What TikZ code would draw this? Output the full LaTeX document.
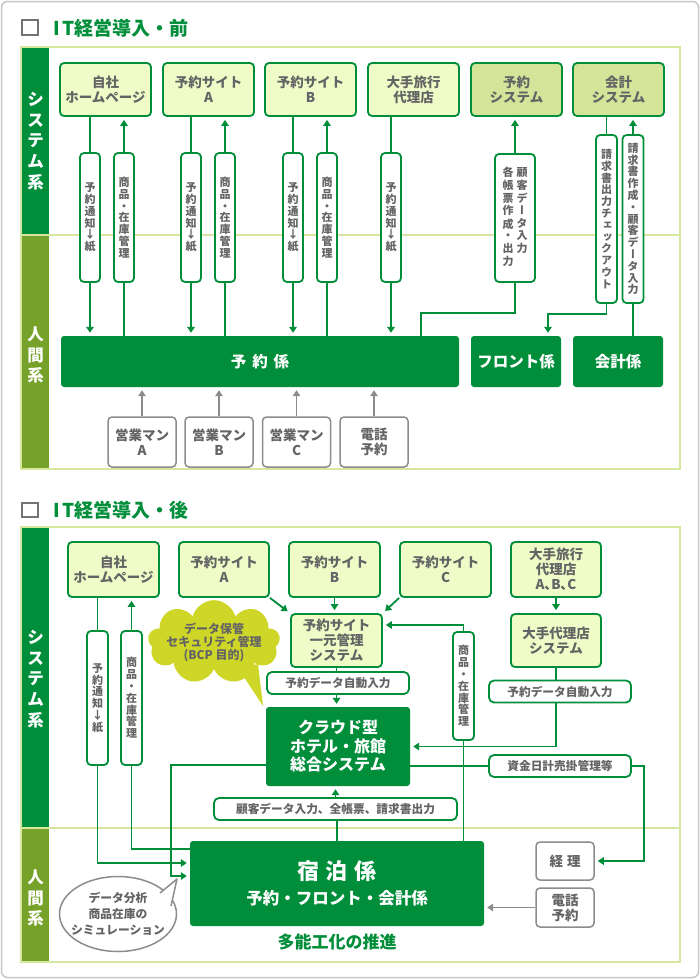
\documentclass[tikz,border=0pt]{standalone}
\usepackage{fontspec}
\setmainfont{Noto Sans CJK JP}
\newfontfamily\jpv[RawFeature=+vert]{Noto Sans CJK JP}
\usepackage{tikz}
\usetikzlibrary{positioning,arrows.meta,calc,shapes.geometric,shapes.symbols}
\usepackage{xcolor}
\definecolor{jgreen}{RGB}{0,142,58}
\definecolor{olivec}{RGB}{118,162,42}
\definecolor{pnlc}{RGB}{214,232,160}
\definecolor{boxlt}{RGB}{240,252,200}
\definecolor{boxdk}{RGB}{212,229,154}
\definecolor{tgray}{RGB}{100,100,100}
\definecolor{bgray}{RGB}{140,140,140}
\definecolor{cloudc}{RGB}{206,214,40}
\tikzset{
  frm/.style={draw=black!22,line width=1.5pt,rounded corners=6pt},
  chk/.style={draw=black!55,line width=1.2pt,fill=white},
  pnl/.style={draw=pnlc,line width=2pt},
  link/.style={draw=jgreen,line width=1.8pt},
  arr/.style={link,->,shorten >=3pt},
  garr/.style={draw=bgray,line width=1.6pt,->,shorten >=3pt},
  sysbox/.style={draw=jgreen,line width=1.8pt,rounded corners=4pt,fill=boxlt,text=tgray,align=center,inner sep=0pt,minimum width=91pt,minimum height=53pt,font=\bfseries\fontsize{13.5}{15}\selectfont},
  sysdark/.style={sysbox,fill=boxdk},
  vlabel/.style={draw=jgreen,line width=1.8pt,rounded corners=4pt,fill=white,text=tgray,align=center,inner sep=0pt,minimum width=20pt,font=\jpv\bfseries\fontsize{11}{11.8}\selectfont},
  hlabel/.style={draw=jgreen,line width=1.8pt,rounded corners=5pt,fill=white,text=tgray,inner sep=0pt,minimum height=22pt,font=\bfseries\fontsize{11.7}{13}\selectfont},
  staff/.style={fill=jgreen,rounded corners=3pt,text=white,align=center,inner sep=0pt,minimum height=51pt,font=\bfseries\fontsize{15.5}{18}\selectfont},
  human/.style={draw=bgray,line width=1.5pt,rounded corners=4pt,fill=white,text=tgray,align=center,inner sep=0pt,minimum width=68pt,minimum height=50pt,font=\bfseries\fontsize{13.5}{15}\selectfont},
  side/.style={text=white,align=center,font=\bfseries\fontsize{16.5}{20.6}\selectfont},
  ttl/.style={anchor=west,text=jgreen,font=\bfseries\fontsize{19}{22}\selectfont}
}
\newcommand{\vcol}[1]{\begin{tabular}[t]{@{}c@{}}#1\end{tabular}}
\begin{document}
\begin{tikzpicture}[x=1pt,y=-1pt,>={Triangle[length=6pt,width=7.5pt]}]
\useasboundingbox (0,0) rectangle (700,980);
\fill[white] (0,0) rectangle (700,980);
\draw[frm] (1.5,1.5) rectangle (698.5,977.5);

% ---- IT before ----
\draw[chk] (22,20) rectangle (38,35);
\node[ttl] (ttlA) at (50,28) {I\hspace{2pt}T経営導入・前};
\draw[pnl] (21,47) rectangle (680,469);
\fill[jgreen] (22,48) rectangle (49,234);
\fill[olivec] (22,236) rectangle (49,468);
\draw[pnl] (21,235) -- (680,235);
\node[side] (sysA) at (35.5,141) {シ\\ス\\テ\\ム\\系};
\node[side] (humA) at (35.5,355) {人\\間\\系};

\node[sysbox] (hp) at (105.5,89.5) {自社\\ホームページ};
\node[sysbox] (siteA) at (208.5,89.5) {予約サイト\\A};
\node[sysbox] (siteB) at (310.5,89.5) {予約サイト\\B};
\node[sysbox] (agent) at (413.5,89.5) {大手旅行\\代理店};
\node[sysdark] (rsys) at (516.5,89.5) {予約\\システム};
\node[sysdark] (asys) at (618.5,89.5) {会計\\システム};

\node[vlabel,minimum height=129pt] (hpN) at (90,217.5) {予\\約\\通\\知\\↓\\紙};
\node[vlabel,minimum height=129pt] (hpS) at (124,217.5) {商\\品\\・\\在\\庫\\管\\理};
\node[vlabel,minimum height=129pt] (aN) at (191,217.5) {予\\約\\通\\知\\↓\\紙};
\node[vlabel,minimum height=129pt] (aS) at (225,217.5) {商\\品\\・\\在\\庫\\管\\理};
\node[vlabel,minimum height=129pt] (bN) at (293,217.5) {予\\約\\通\\知\\↓\\紙};
\node[vlabel,minimum height=129pt] (bS) at (327,217.5) {商\\品\\・\\在\\庫\\管\\理};
\node[vlabel,minimum height=129pt] (agN) at (391,217.5) {予\\約\\通\\知\\↓\\紙};
\node[vlabel,minimum height=128pt,minimum width=40pt] (rsL) at (515,218) {\vcol{各\\帳\\票\\作\\成\\・\\出\\力}\hspace{3pt}\vcol{顧\\客\\デ\\ー\\タ\\入\\力}};
\node[vlabel,minimum height=168pt,minimum width=21pt] (asL1) at (606.5,219) {請\\求\\書\\出\\力\\チ\\ェ\\ッ\\ク\\ア\\ウ\\ト};
\node[vlabel,minimum height=168pt,minimum width=21pt] (asL2) at (633,219) {請\\求\\書\\作\\成\\・\\顧\\客\\デ\\ー\\タ\\入\\力};

\node[staff,minimum width=398pt] (resv) at (260,361.5) {予\hspace{6pt}約\hspace{6pt}係};
\node[staff,minimum width=90pt] (front) at (516,361.5) {フロント係};
\node[staff,minimum width=90pt] (kaikei) at (618,361.5) {会計係};

\node[human] (smA) at (142,442) {営業マン\\A};
\node[human] (smB) at (219,442) {営業マン\\B};
\node[human] (smC) at (296.5,442) {営業マン\\C};
\node[human] (telA) at (374,442) {電話\\予約};

\draw[link] (hpN.north) -- (hpN.north |- hp.south);
\draw[arr] (hpN.south) -- (hpN.south |- resv.north);
\draw[arr] (hpS.north) -- (hpS.north |- hp.south);
\draw[link] (hpS.south) -- (hpS.south |- resv.north);
\draw[link] (aN.north) -- (aN.north |- siteA.south);
\draw[arr] (aN.south) -- (aN.south |- resv.north);
\draw[arr] (aS.north) -- (aS.north |- siteA.south);
\draw[link] (aS.south) -- (aS.south |- resv.north);
\draw[link] (bN.north) -- (bN.north |- siteB.south);
\draw[arr] (bN.south) -- (bN.south |- resv.north);
\draw[arr] (bS.north) -- (bS.north |- siteB.south);
\draw[link] (bS.south) -- (bS.south |- resv.north);
\draw[link] (agN.north) -- (agN.north |- agent.south);
\draw[arr] (agN.south) -- (agN.south |- resv.north);
\draw[arr] (rsL.north) -- (rsL.north |- rsys.south);
\coordinate (rsBend) at (421,313);
\draw[link] (rsL.south) |- (rsBend) -- (rsBend |- resv.north);
\draw[link] (asL1.north) -- (asL1.north |- asys.south);
\coordinate (frBend) at (548,314);
\draw[arr] (asL1.south) |- (frBend) -- (frBend |- front.north);
\draw[arr] (asL2.north) -- (asL2.north |- asys.south);
\draw[link] (asL2.south) -- (asL2.south |- kaikei.north);

\draw[garr] (smA.north) -- (smA.north |- resv.south);
\draw[garr] (smB.north) -- (smB.north |- resv.south);
\draw[garr] (smC.north) -- (smC.north |- resv.south);
\draw[garr] (telA.north) -- (telA.north |- resv.south);

% ---- IT after ----
\draw[chk] (22,503) rectangle (38,517);
\node[ttl] (ttlB) at (50,510) {I\hspace{2pt}T経営導入・後};
\draw[pnl] (21,527) rectangle (680,962);
\fill[jgreen] (22,528) rectangle (49,827);
\fill[olivec] (22,829) rectangle (49,961);
\draw[pnl] (21,828) -- (680,828);
\node[side] (sysB) at (35.5,679) {シ\\ス\\テ\\ム\\系};
\node[side] (humB) at (35.5,898) {人\\間\\系};

\node[sysbox,minimum height=55pt] (hp2) at (113.5,569.5) {自社\\ホームページ};
\node[sysbox,minimum height=55pt,minimum width=90pt] (sA2) at (224,569.5) {予約サイト\\A};
\node[sysbox,minimum height=55pt] (sB2) at (334.5,569.5) {予約サイト\\B};
\node[sysbox,minimum height=55pt] (sC2) at (445.5,569.5) {予約サイト\\C};
\node[sysbox,minimum height=55pt,minimum width=90pt] (ag2) at (556,569.5) {大手旅行\\代理店\\A､B､C};
\node[sysbox,minimum height=53pt] (ichi) at (336.5,640.5) {予約サイト\\一元管理\\システム};
\node[sysbox,minimum height=53pt,minimum width=90pt] (agsys) at (556,640.5) {大手代理店\\システム};

\node[hlabel,minimum width=142pt] (autoA) at (338,683) {予約データ自動入力};
\node[hlabel,minimum width=142pt] (autoB) at (560,691.5) {予約データ自動入力};
\node[staff,minimum width=144pt,minimum height=79pt,font=\bfseries\fontsize{16}{18.5}\selectfont] (cloud) at (338,746.5) {クラウド型\\ホテル・旅館\\総合システム};
\node[hlabel,minimum width=243pt] (cust) at (335.5,809) {顧客データ入力、全帳票、請求書出力};
\node[hlabel,minimum width=142pt] (fund) at (560,766) {資金日計売掛管理等};
\node[vlabel,minimum height=108pt,minimum width=21pt] (stk) at (463.5,686) {商\\品\\・\\在\\庫\\管\\理};
\node[vlabel,minimum height=134pt,minimum width=21pt] (hpN2) at (97.5,698) {予\\約\\通\\知\\↓\\紙};
\node[vlabel,minimum height=134pt,minimum width=21pt] (hpS2) at (131.5,698) {商\\品\\・\\在\\庫\\管\\理};

\fill[cloudc] (238,668) -- (263,706) -- (258,664) -- cycle;
\node[cloud,cloud puffs=9,aspect=2.2,fill=cloudc,minimum width=132pt,minimum height=62pt,inner xsep=-10pt,inner ysep=0pt,text=tgray,align=center,font=\bfseries\fontsize{12}{13}\selectfont] (bcp) at (214,642) {データ保管\\セキュリティ管理\\(BCP 目的)};

\node[staff,minimum width=294pt,minimum height=85pt] (shuku) at (337,883.5) {{\fontsize{22}{26}\selectfont 宿\hspace{7pt}泊\hspace{7pt}係}\\[7pt]{\fontsize{16.5}{20}\selectfont 予約・フロント・会計係}};
\node[below=4pt of shuku,text=jgreen,font=\bfseries\fontsize{17}{20}\selectfont] (tano) {多能工化の推進};
\node[human,minimum width=58pt,minimum height=38pt] (keiri) at (565,861) {経\hspace{4pt}理};
\node[human,minimum width=58pt,minimum height=39pt] (telB) at (565,907.5) {電話\\予約};

\node[ellipse,draw=bgray,line width=1.5pt,fill=white,minimum width=117pt,minimum height=75pt,inner xsep=-8pt,inner ysep=0pt,align=center,text=tgray,font=\bfseries\fontsize{11.8}{15.7}\selectfont] (anal) at (118,914) {データ分析\\商品在庫の\\シミュレーション};
\fill[white] (160,893) -- (177,879) -- (171,906) -- cycle;
\draw[draw=bgray,line width=1.5pt,line join=round] (160,893) -- (177,879) -- (171,906);

\draw[arr] (sA2.south east) -- (ichi.north west);
\draw[arr] (sB2.south) -- (sB2.south |- ichi.north);
\draw[arr] (sC2.south west) -- (ichi.north east);
\draw[arr] (ag2.south) -- (agsys.north);
\draw[link] (ichi.south) -- (ichi.south |- autoA.north);
\draw[arr] (ichi.south |- autoA.south) -- (ichi.south |- cloud.north);
\coordinate (stkTop) at (463.5,625);
\draw[arr] (stk.north) -- (stkTop) -- (stkTop -| ichi.east);
\draw[link] (stk.south) -- (stk.south |- shuku.north);
\draw[link] (agsys.south) -- (agsys.south |- autoB.north);
\draw[arr] (agsys.south |- autoB.south) |- (cloud.east);
\draw[link] (cloud.east |- fund.west) -- (fund.west);
\draw[arr] (fund.east) -- ++(12,0) |- (keiri.east);
\draw[link] (shuku.north) -- (shuku.north |- cust.south);
\draw[arr] (cust.north) -- (cust.north |- cloud.south);
\draw[link] (hpN2.north) -- (hpN2.north |- hp2.south);
\draw[arr] (hpN2.south) |- ([yshift=20.5pt]shuku.west);
\draw[arr] (hpS2.north) -- (hpS2.north |- hp2.south);
\draw[link] ([yshift=34.5pt]shuku.west) -| (hpS2.south);
\coordinate (cwBend) at (171,765);
\draw[arr] ([yshift=-18.5pt]cloud.west) -- (cwBend) |- ([yshift=7.5pt]shuku.west);
\draw[garr] (telB.west) -- (telB.west -| shuku.east);
\end{tikzpicture}
\end{document}
